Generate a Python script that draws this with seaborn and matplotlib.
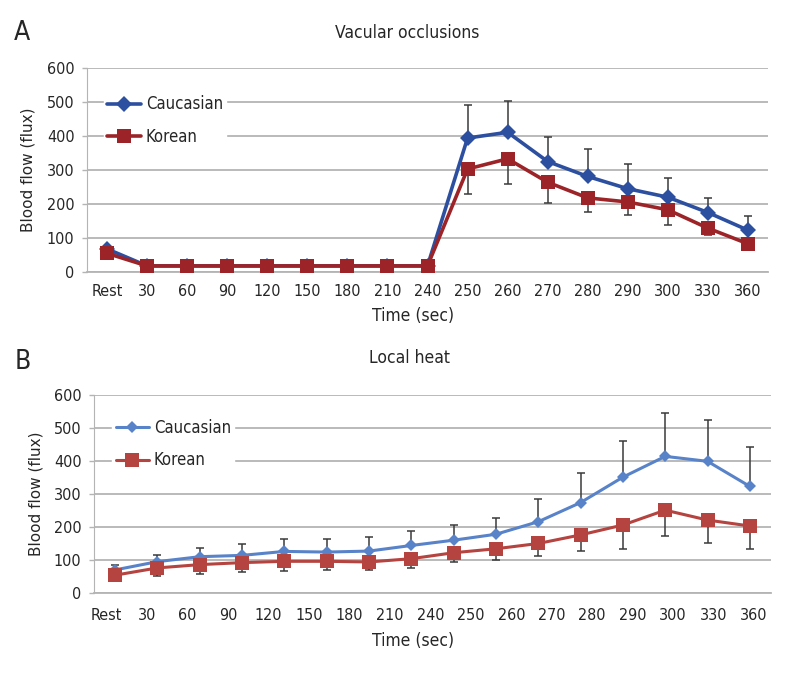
import numpy as np
import pandas as pd
import matplotlib
matplotlib.use("Agg")
import matplotlib.pyplot as plt
import seaborn as sns

# x tick labels shared by both panels
time_labels = ["Rest", "30", "60", "90", "120", "150", "180", "210", "240",
               "250", "260", "270", "280", "290", "300", "330", "360"]

# panel A - vascular occlusion (17 time points)
occ_cauc = [68, 18, 18, 18, 18, 18, 18, 18, 18, 394, 411, 325, 281, 245, 220, 175, 123]
occ_kor = [55, 18, 18, 18, 18, 18, 18, 18, 18, 303, 333, 264, 218, 206, 183, 129, 83]
occ_cauc_err = [0, 0, 0, 0, 0, 0, 0, 0, 0, 98, 91, 72, 80, 72, 57, 44, 43]
occ_kor_err = [0, 0, 0, 0, 0, 0, 0, 0, 0, 73, 74, 60, 41, 39, 44, 20, 0]

# panel B - local heat (16 measurements)
heat_cauc = [70, 95, 110, 114, 126, 124, 127, 144, 160, 178, 216, 274, 351, 414, 399, 323]
heat_kor = [54, 76, 86, 92, 96, 96, 94, 104, 122, 134, 150, 176, 206, 251, 221, 203]
heat_cauc_err = [14, 20, 27, 35, 38, 40, 43, 44, 46, 50, 70, 89, 109, 131, 124, 120]
heat_kor_err = [0, 24, 29, 27, 30, 26, 24, 29, 28, 34, 38, 48, 72, 78, 70, 69]

sns.set_style("white")
plt.rcParams["font.family"] = ["DejaVu Sans"]
plt.rcParams["font.stretch"] = "condensed"

fig = plt.figure(figsize=(8, 6.76), dpi=100)
ax_a = fig.add_axes([0.10875, 0.5976, 0.85125, 0.3018])
ax_b = fig.add_axes([0.1175, 0.1228, 0.84625, 0.2929])

GRID = "#b4b4b4"


def draw_panel(ax, cauc, kor, cauc_err, kor_err, c_blue, c_red, msize, lw, tick_pos, leg_anchor, xpad):
    n = len(cauc)
    x = np.arange(n)
    df = pd.DataFrame({"x": np.concatenate([x, x]),
                       "y": np.concatenate([cauc, kor]),
                       "group": ["Caucasian"] * n + ["Korean"] * n})
    # one-sided error bars: up for Caucasian, down for Korean
    ax.errorbar(x, cauc, yerr=[np.zeros(n), cauc_err], fmt="none",
                ecolor="#3a3a3a", elinewidth=1.1, capsize=3, capthick=1.1, zorder=2)
    ax.errorbar(x, kor, yerr=[kor_err, np.zeros(n)], fmt="none",
                ecolor="#3a3a3a", elinewidth=1.1, capsize=3, capthick=1.1, zorder=2)
    sns.lineplot(data=df[df.group == "Caucasian"], x="x", y="y", ax=ax, color=c_blue,
                 marker="D", markersize=msize[0], markeredgewidth=0, linewidth=lw,
                 label="Caucasian", zorder=3)
    sns.lineplot(data=df[df.group == "Korean"], x="x", y="y", ax=ax, color=c_red,
                 marker="s", markersize=msize[1], markeredgewidth=0, linewidth=lw,
                 label="Korean", zorder=4)

    ax.set_ylim(0, 600)
    ax.set_yticks(range(0, 601, 100))
    ax.set_xlim(-0.5, n - 0.5)
    ax.set_xticks(tick_pos)
    ax.set_xticklabels(time_labels, fontsize=11.5)
    ax.tick_params(axis="y", labelsize=11.5, length=3.5, width=1, color=GRID, pad=5.5, left=True)
    ax.tick_params(axis="x", length=0, pad=xpad)
    ax.yaxis.grid(True, color=GRID, linewidth=1.3)
    ax.set_axisbelow(True)
    for s in ["top", "right"]:
        ax.spines[s].set_visible(False)
    ax.spines["left"].set_color(GRID)
    ax.spines["bottom"].set_color(GRID)
    ax.spines["bottom"].set_linewidth(1.3)
    ax.set_xlabel("")
    ax.set_ylabel("Blood flow (flux)", fontsize=11, fontstretch="normal")
    ax.yaxis.set_label_coords(-0.075, 0.5)

    leg = ax.legend(loc="upper left", bbox_to_anchor=leg_anchor, frameon=True,
                    fontsize=12, handlelength=2.0, handletextpad=0.3,
                    borderpad=0.2, borderaxespad=0, labelspacing=0.85)
    leg.get_frame().set_facecolor("white")
    leg.get_frame().set_edgecolor("white")
    leg.get_frame().set_alpha(1)
    leg.get_frame().set_boxstyle("square", pad=0)


draw_panel(ax_a, occ_cauc, occ_kor, occ_cauc_err, occ_kor_err,
           "#2c4fa0", "#9c2428", (8, 9.5), 2.6, np.arange(17), (0.025, 0.882), 8.5)
# panel B: 16 points, but 17 labels spread along the axis
draw_panel(ax_b, heat_cauc, heat_kor, heat_cauc_err, heat_kor_err,
           "#5883c8", "#b5433f", (6.5, 9.5), 2.2, np.linspace(-0.2, 15.1, 17), (0.027, 0.894), 10.5)

# titles, panel letters and x labels
fig.text(0.509, 0.951, "Vacular occlusions", ha="center", va="center", fontsize=12.5)
fig.text(0.5125, 0.470, "Local heat", ha="center", va="center", fontsize=12.5)
fig.text(0.028, 0.951, "A", ha="center", va="center", fontsize=19)
fig.text(0.028, 0.4645, "B", ha="center", va="center", fontsize=19)
fig.text(0.516, 1 - 316 / 676, "Time (sec)", ha="center", va="center", fontsize=12.5)
fig.text(0.516, 1 - 641 / 676, "Time (sec)", ha="center", va="center", fontsize=12.5)

fig.savefig("out.png", dpi=100)
